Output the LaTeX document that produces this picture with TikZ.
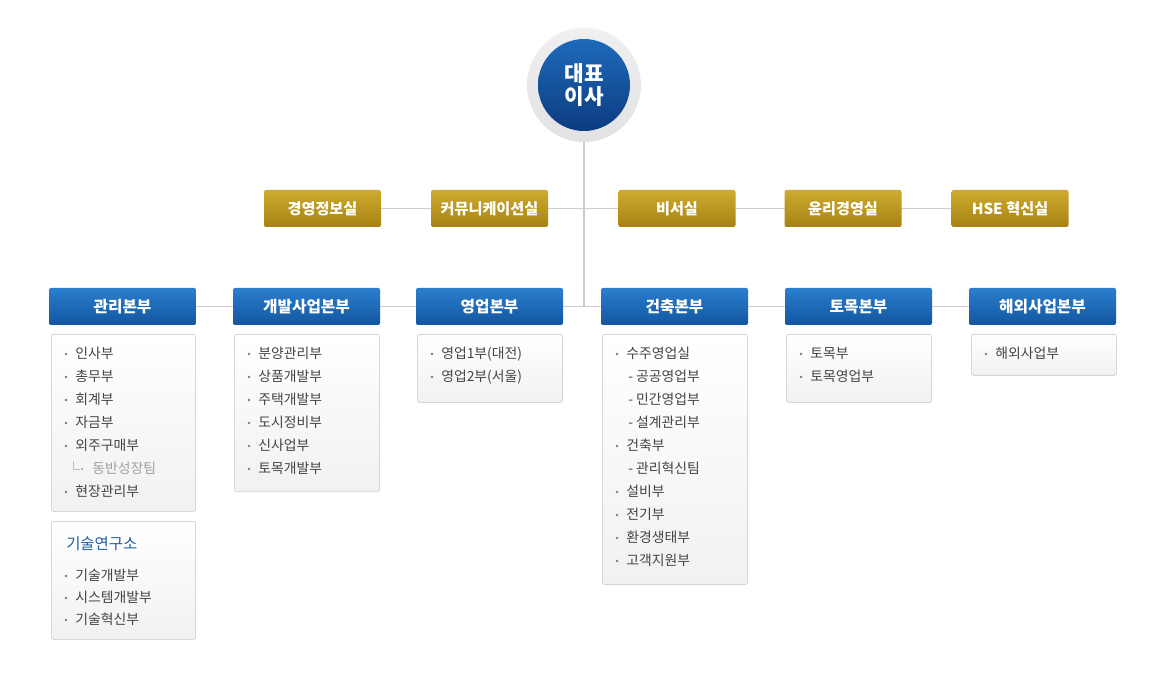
\documentclass[tikz,border=0pt]{standalone}
\usepackage{fontspec}
\setmainfont{Noto Sans CJK KR}
\usetikzlibrary{calc,backgrounds}
\definecolor{goldT}{RGB}{206,170,48}
\definecolor{goldB}{RGB}{166,130,18}
\definecolor{blueT}{RGB}{42,126,204}
\definecolor{blueB}{RGB}{18,86,162}
\definecolor{circT}{RGB}{30,106,186}
\definecolor{circB}{RGB}{12,60,128}
\definecolor{ringT}{RGB}{240,240,241}
\definecolor{ringB}{RGB}{226,226,228}
\definecolor{lineC}{RGB}{205,205,205}
\definecolor{boxBorder}{RGB}{214,214,214}
\definecolor{boxBot}{RGB}{241,241,241}
\definecolor{itemC}{RGB}{68,68,68}
\definecolor{subC}{RGB}{160,160,160}
\definecolor{labC}{RGB}{34,94,170}
\begin{document}
\begin{tikzpicture}[x=0.75pt,y=-0.75pt,
  conn/.style={draw=lineC,line width=0.8pt},
  goldbox/.style={rectangle,rounded corners=1.5pt,minimum width=87.75pt,minimum height=27.75pt,
    top color=goldT,bottom color=goldB,draw=none,text=white,inner sep=0pt,
    font=\bfseries\fontsize{11.4}{12}\selectfont},
  bluebox/.style={rectangle,rounded corners=1.5pt,minimum width=110.25pt,minimum height=27.75pt,
    top color=blueT,bottom color=blueB,draw=none,text=white,inner sep=0pt,
    font=\bfseries\fontsize{11.8}{12}\selectfont},
  listbox/.style={rectangle,rounded corners=1.5pt,anchor=north west,draw=boxBorder,line width=0.6pt,
    top color=white,bottom color=boxBot,inner sep=0pt},
  bul/.style={circle,fill=itemC!70,inner sep=0pt,minimum size=2pt},
  itm/.style={anchor=west,inner sep=0pt,text=itemC,font=\fontsize{10.4}{11}\selectfont,
    text height=0.8em,text depth=0.15em},
]
\useasboundingbox (0,0) rectangle (1157,677);

% CEO circle
\node[circle,top color=ringT,bottom color=ringB,minimum size=85.5pt,inner sep=0pt] (ring) at (584,85) {};
\node[circle,top color=circT,bottom color=circB,minimum size=69pt,inner sep=0pt,text=white,
  align=center,font=\bfseries\fontsize{16}{17.5}\selectfont] (ceo) at (584,85) {대표\\이사};

% staff offices
\node[goldbox] (g1) at (322.5,208.5) {경영정보실};
\node[goldbox] (g2) at (489.5,208.5) {커뮤니케이션실};
\node[goldbox] (g3) at (677,208.5) {비서실};
\node[goldbox] (g4) at (843,208.5) {윤리경영실};
\node[goldbox] (g5) at (1010,208.5) {HSE 혁신실};

% divisions
\node[bluebox] (b1) at (122.5,306.5) {관리본부};
\node[bluebox] (b2) at (306.5,306.5) {개발사업본부};
\node[bluebox] (b3) at (489.5,306.5) {영업본부};
\node[bluebox] (b4) at (674.5,306.5) {건축본부};
\node[bluebox] (b5) at (858.5,306.5) {토목본부};
\node[bluebox] (b6) at (1042.5,306.5) {해외사업본부};

\coordinate (junc) at (ring.south |- b1.center);
\begin{scope}[on background layer]
  \draw[conn] (g1.center) -- (g5.center);
  \draw[conn] (b1.center) -- (b6.center);
  \draw[conn] (ring.south) -- (junc);
\end{scope}

% list boxes
\node[listbox,minimum width=108pt,minimum height=132.75pt] (l1) at (51,334) {};
\node[listbox,minimum width=108.75pt,minimum height=118pt] (l2) at (234,334) {};
\node[listbox,minimum width=108.75pt,minimum height=51pt] (l3) at (417,334) {};
\node[listbox,minimum width=108.75pt,minimum height=187.5pt] (l4) at (602,334) {};
\node[listbox,minimum width=108.75pt,minimum height=51pt] (l5) at (786,334) {};
\node[listbox,minimum width=108.75pt,minimum height=30.75pt] (l6) at (971,334) {};
\node[listbox,minimum width=108pt,minimum height=88.5pt] (l7) at (51,521) {};

% 관리본부
\foreach \r/\t in {0/인사부,1/총무부,2/회계부,3/자금부,4/외주구매부,6/현장관리부} {
  \node[bul] (l1b\r) at ($(l1.north west)+(15,20+23*\r)$) {};
  \node[itm] (l1t\r) at ($(l1.north west)+(24,20+23*\r)$) {\t};
}
\node[itm,text=subC] (l1t5) at ($(l1.north west)+(41,20+23*5)$) {동반성장팀};
\coordinate (elb) at ($(l1.north west)+(22,20+23*5)$);
\draw[draw=subC!70,line width=0.5pt] ($(elb)+(0,-8)$) -- (elb) -- ($(elb)+(7,0)$);
\node[circle,fill=subC,inner sep=0pt,minimum size=1.8pt] (l1d5) at ($(elb)+(9,0)$) {};

% 개발사업본부
\foreach \t [count=\i from 0] in {분양관리부,상품개발부,주택개발부,도시정비부,신사업부,토목개발부} {
  \node[bul] (l2b\i) at ($(l2.north west)+(15,20+23*\i)$) {};
  \node[itm] (l2t\i) at ($(l2.north west)+(24,20+23*\i)$) {\t};
}

% 영업본부
\foreach \t [count=\i from 0] in {영업1부(대전),영업2부(서울)} {
  \node[bul] (l3b\i) at ($(l3.north west)+(15,20+23*\i)$) {};
  \node[itm] (l3t\i) at ($(l3.north west)+(24,20+23*\i)$) {\t};
}

% 건축본부
\foreach \r/\t in {0/수주영업실,4/건축부,6/설비부,7/전기부,8/환경생태부,9/고객지원부} {
  \node[bul] (l4b\r) at ($(l4.north west)+(15,20+23*\r)$) {};
  \node[itm] (l4t\r) at ($(l4.north west)+(24,20+23*\r)$) {\t};
}
\foreach \r/\t in {1/공공영업부,2/민간영업부,3/설계관리부,5/관리혁신팀} {
  \node[itm] (l4t\r) at ($(l4.north west)+(26,20+23*\r)$) {- \t};
}

% 토목본부
\foreach \t [count=\i from 0] in {토목부,토목영업부} {
  \node[bul] (l5b\i) at ($(l5.north west)+(15,20+23*\i)$) {};
  \node[itm] (l5t\i) at ($(l5.north west)+(24,20+23*\i)$) {\t};
}

% 해외사업본부
\node[bul] (l6b0) at ($(l6.north west)+(15,20)$) {};
\node[itm] (l6t0) at ($(l6.north west)+(24,20)$) {해외사업부};

% 기술연구소
\node[itm,text=labC,font=\fontsize{11.6}{12}\selectfont] (l7h) at ($(l7.north west)+(15,24)$) {기술연구소};
\foreach \t [count=\i from 0] in {기술개발부,시스템개발부,기술혁신부} {
  \node[bul] (l7b\i) at ($(l7.north west)+(15,55+22*\i)$) {};
  \node[itm] (l7t\i) at ($(l7.north west)+(24,55+22*\i)$) {\t};
}
\end{tikzpicture}
\end{document}
